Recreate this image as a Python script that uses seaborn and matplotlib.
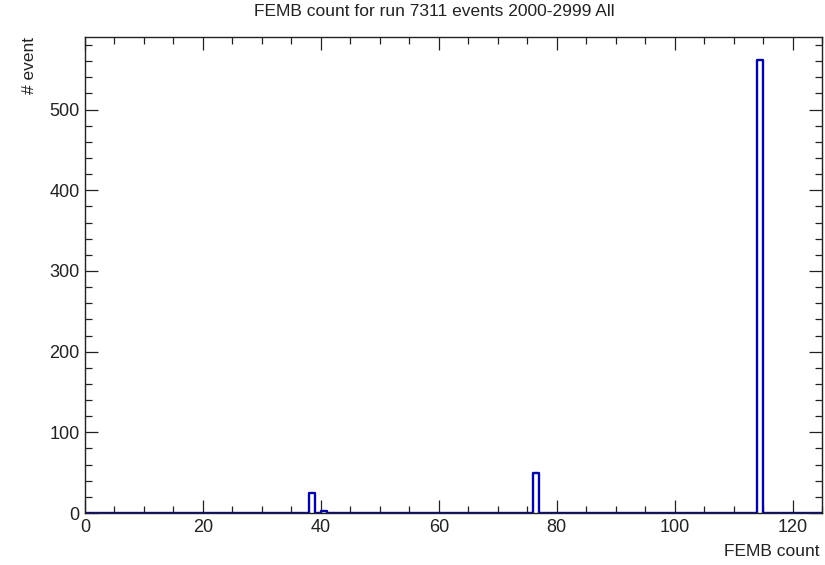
import numpy as np
import pandas as pd
import matplotlib
matplotlib.use("Agg")
import matplotlib.pyplot as plt
import seaborn as sns
from matplotlib.ticker import MultipleLocator

# Data: non-empty bins (bin low edge) and their counts
bin_low = [38, 40, 76, 114]
counts = [25, 2, 50, 562]
x_min, x_max = 0, 125
title = "FEMB count for run 7311 events 2000-2999 All"
xlabel = "FEMB count"
ylabel = "# event"

sns.set_style("ticks")
plt.rcParams["font.family"] = ["Liberation Sans", "DejaVu Sans"]

fig = plt.figure(figsize=(8.25, 5.65), dpi=100)
ax = fig.add_axes([85/825, 1-513/565, (822-85)/825, (513-37)/565])

df = pd.DataFrame({"femb": [b + 0.5 for b in bin_low], "n": counts})
sns.histplot(data=df, x="femb", weights="n", bins=x_max - x_min,
             binrange=(x_min, x_max), element="step", fill=False,
             color="#0505a5", linewidth=1.7, ax=ax)

ax.set_xlim(x_min, x_max)
ax.set_ylim(0, 590)
ax.xaxis.set_major_locator(MultipleLocator(20))
ax.xaxis.set_minor_locator(MultipleLocator(5))
ax.yaxis.set_major_locator(MultipleLocator(100))
ax.yaxis.set_minor_locator(MultipleLocator(20))
ax.tick_params(which="both", direction="in", top=True, right=True,
               color="#222222", width=0.9, labelsize=13, labelcolor="#222222")
ax.tick_params(which="major", length=9.5, pad=4)
ax.tick_params(which="minor", length=4.8)
for s in ax.spines.values():
    s.set_linewidth(1.0)
    s.set_color("#222222")
ax.set_xlabel("")
ax.set_ylabel("")

fig.text(434/825, 1-12/565, title, ha="center", va="center", fontsize=12.5, color="#222222")
fig.text(820/825, 1-552/565, xlabel, ha="right", va="center", fontsize=12.5, color="#222222")
fig.text(30/825, 1-37/565, ylabel, ha="center", va="top", rotation=90, fontsize=12.5, color="#222222")

fig.savefig("out.png", dpi=100)
